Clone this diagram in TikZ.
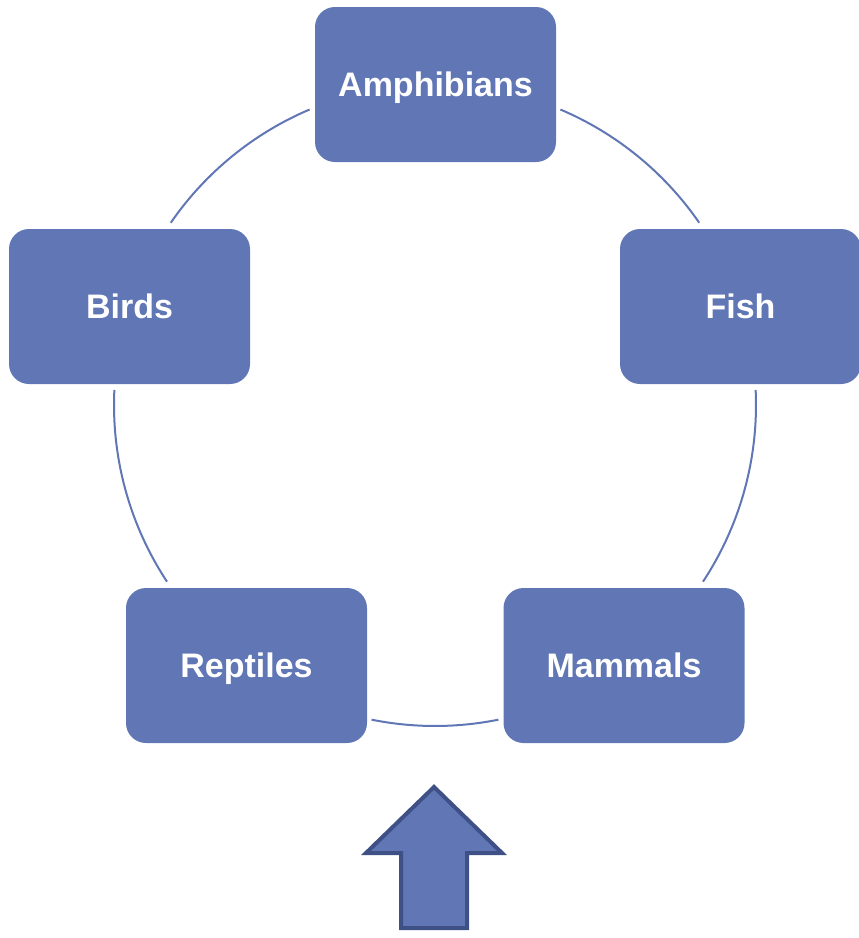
\documentclass[tikz,border=0pt]{standalone}
\usepackage{fontspec}
\setmainfont{Liberation Sans}
\usetikzlibrary{calc}
\definecolor{boxblue}{HTML}{6076B5}
\definecolor{arrowedge}{HTML}{3F5086}
\begin{document}
\begin{tikzpicture}[x=1pt,y=1pt,
  stage/.style={rectangle, rounded corners=20pt, fill=boxblue, draw=none,
    minimum width=241pt, minimum height=155pt, inner sep=0pt,
    text height=24.3pt, text depth=0pt,
    text=white, font=\fontsize{34}{40}\selectfont\bfseries},
  ring/.style={draw=boxblue, line width=2pt}]
\useasboundingbox (0,0) rectangle (859,-938);
\coordinate (c) at (435,-405);
\node[stage] (amph) at (435.5,-84.5) {Amphibians};
\node[stage] (birds) at (129.5,-306.5) {Birds};
\node[stage] (fish) at (740.5,-306.5) {Fish};
\node[stage] (rept) at (246.5,-665.5) {Reptiles};
\node[stage] (mamm) at (624,-665.5) {Mammals};
% arc start points
\coordinate (a1) at ($(c)+(113:321)$);
\coordinate (a2) at ($(c)+(67:321)$);
\coordinate (a3) at ($(c)+(2.7:321)$);
\coordinate (a4) at ($(c)+(177.3:321)$);
\coordinate (a5) at ($(c)+(258.6:321)$);
\draw[ring] (a1) arc[start angle=113, end angle=145.4, radius=321];
\draw[ring] (a2) arc[start angle=67, end angle=34.6, radius=321];
\draw[ring] (a3) arc[start angle=2.7, end angle=-33.4, radius=321];
\draw[ring] (a4) arc[start angle=177.3, end angle=213.4, radius=321];
\draw[ring] (a5) arc[start angle=258.6, end angle=281.4, radius=321];
% up arrow
\draw[fill=boxblue, draw=arrowedge, line width=4pt, line join=miter]
  (434,-787) -- (502,-853) -- (467,-853) -- (467,-928) -- (401,-928)
  -- (401,-853) -- (366,-853) -- cycle;
\end{tikzpicture}
\end{document}
